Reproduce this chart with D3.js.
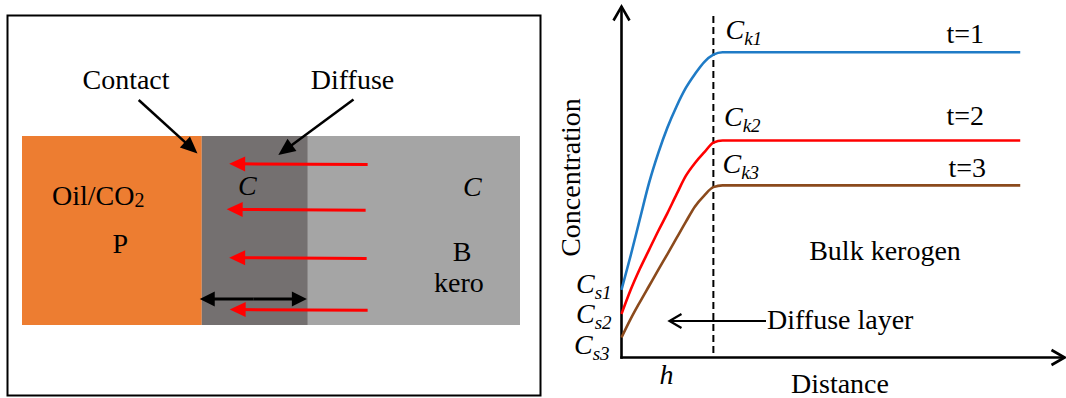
<!DOCTYPE html>
<html>
<head>
<meta charset="utf-8">
<script src="https://cdn.jsdelivr.net/npm/d3@7"></script>
<style>
  html, body { margin: 0; padding: 0; background: #fff; }
  svg { display: block; }
</style>
</head>
<body>
<svg id="chart" width="1066" height="398"></svg>
<script>
// ---------- DATA ----------
// Left panel: regions along the block (0..100 across the block)
const regionNames = ["Oil/CO2 P", "Diffuse layer", "Bulk kerogen"];
const regionBounds = [0, 36.1, 57.4, 100];
const regionColors = ["#ED7D31", "#747070", "#A5A5A5"];
// red flux arrows: vertical position (0..100 down the block), tail and tip (0..100 across)
const fluxRows = [14.7, 38.8, 64.4, 91.8];
const fluxTail = [69.4, 69.0, 69.2, 69.4];
const fluxTip  = [41.6, 41.1, 41.6, 41.7];

// Right panel: concentration profiles vs distance (h = 1)
const distance = [0, 0.1, 0.2, 0.3, 0.4, 0.5, 0.6, 0.7, 0.8, 0.9, 1.0, 1.1, 4.34];
const concT1 = [19.3, 29.1, 39.5, 49.8, 58.3, 65.6, 71.7, 76.9, 80.9, 84.3, 86.4, 87.1, 87.1];
const concT2 = [12.4, 19.3, 25.3, 30.7, 36.1, 41.2, 46.6, 51.8, 55.5, 58.5, 61.3, 61.9, 61.9];
const concT3 = [5.7, 11.0, 15.8, 20.4, 25.0, 29.5, 34.1, 38.7, 43.1, 46.2, 48.6, 49.1, 49.1];
const seriesNames = ["t=1", "t=2", "t=3"];
const seriesColors = ["#1F7BC6", "#FF0000", "#8B4A1C"];
const surfaceLabels = ["s1", "s2", "s3"];
const bulkLabels = ["k1", "k2", "k3"];
const hValue = 1;

// ---------- DRAW ----------
const svg = d3.select("#chart");
const FONT = 28;
const FAMILY = "'Liberation Serif', 'DejaVu Serif', 'Times New Roman', serif";

function txt(g, xx, yy, size) {
  return g.append("text").attr("x", xx).attr("y", yy)
    .attr("font-family", FAMILY).attr("font-size", size || FONT).attr("fill", "#000");
}

function filledArrow(g, x1, y1, x2, y2, color, width, headLen, headW) {
  const dx = x2 - x1, dy = y2 - y1, Ln = Math.hypot(dx, dy);
  const ux = dx / Ln, uy = dy / Ln, px = -uy, py = ux;
  const bx = x2 - ux * headLen, by = y2 - uy * headLen;
  g.append("line").attr("x1", x1).attr("y1", y1)
    .attr("x2", x2 - ux * headLen * 0.6).attr("y2", y2 - uy * headLen * 0.6)
    .attr("stroke", color).attr("stroke-width", width);
  g.append("path")
    .attr("d", `M${x2},${y2}L${bx + px * headW / 2},${by + py * headW / 2}L${bx - px * headW / 2},${by - py * headW / 2}Z`)
    .attr("fill", color);
}
function openArrow(g, x1, y1, x2, y2, color, width, headLen, headW) {
  const dx = x2 - x1, dy = y2 - y1, Ln = Math.hypot(dx, dy);
  const ux = dx / Ln, uy = dy / Ln, px = -uy, py = ux;
  const bx = x2 - ux * headLen, by = y2 - uy * headLen;
  g.append("line").attr("x1", x1).attr("y1", y1).attr("x2", x2).attr("y2", y2)
    .attr("stroke", color).attr("stroke-width", width);
  g.append("path")
    .attr("d", `M${bx + px * headW / 2},${by + py * headW / 2}L${x2},${y2}L${bx - px * headW / 2},${by - py * headW / 2}`)
    .attr("fill", "none").attr("stroke", color).attr("stroke-width", width)
    .attr("stroke-linejoin", "miter");
}

// ===== Left panel =====
const L = svg.append("g");
L.append("rect").attr("x", 7.5).attr("y", 15.5).attr("width", 533).attr("height", 380)
  .attr("fill", "none").attr("stroke", "#000").attr("stroke-width", 2);

const bx = d3.scaleLinear().domain([0, 100]).range([22, 520]);
const by = d3.scaleLinear().domain([0, 100]).range([136, 325]);

L.selectAll("rect.region").data(regionNames).join("rect")
  .attr("class", "region")
  .attr("x", (d, i) => bx(regionBounds[i]))
  .attr("y", by(0))
  .attr("width", (d, i) => bx(regionBounds[i + 1]) - bx(regionBounds[i]))
  .attr("height", by(100) - by(0))
  .attr("fill", (d, i) => regionColors[i]);

// red flux arrows
fluxRows.forEach((r, i) => {
  filledArrow(L, bx(fluxTail[i]), by(r) + 0.8, bx(fluxTip[i]), by(r), "#FF0000", 3, 16, 15);
});

// double-headed width arrow of the diffuse layer
(function () {
  const yy = by(86.2), xa = bx(regionBounds[1]) - 2, xb = bx(regionBounds[2]) - 1;
  filledArrow(L, (xa + xb) / 2, yy, xa, yy, "#000", 3, 15, 15);
  filledArrow(L, (xa + xb) / 2, yy, xb, yy, "#000", 3, 15, 15);
})();

// Contact / Diffuse pointers
filledArrow(L, 138.7, 100, 197.5, 153.5, "#000", 2.5, 17, 15);
filledArrow(L, 353.5, 99.5, 278.3, 155, "#000", 2.5, 17, 15);

txt(L, 126, 89).attr("text-anchor", "middle").text("Contact");
txt(L, 352.5, 89).attr("text-anchor", "middle").text("Diffuse");

const oil = txt(L, 52, 205);
oil.append("tspan").text("Oil/CO");
oil.append("tspan").attr("font-size", 20).attr("dy", 2).text("2");
txt(L, 112.5, 253).text("P");
txt(L, 238, 195).attr("font-style", "italic").text("C");
txt(L, 463, 196).attr("font-style", "italic").text("C");
txt(L, 462, 261).attr("text-anchor", "middle").text("B");
txt(L, 459, 292).attr("text-anchor", "middle").text("kero");

// ===== Right panel =====
const R = svg.append("g");
const x = d3.scaleLinear().domain([0, 4.8]).range([621.5, 1062.5]);
const y = d3.scaleLinear().domain([0, 100]).range([357.5, 7]);

// axes with arrows
openArrow(R, x(0), y(0) + 1.2, x(0), 6.5, "#000", 2.6, 14, 16);
openArrow(R, x(0) - 1.2, y(0), 1064.5, y(0), "#000", 2.6, 13, 15);

// dashed h line
R.append("line").attr("x1", x(hValue)).attr("x2", x(hValue))
  .attr("y1", 16).attr("y2", y(0))
  .attr("stroke", "#000").attr("stroke-width", 2).attr("stroke-dasharray", "7,4");

// curves
const series = [concT1, concT2, concT3];
const line = d3.line().x((d, i) => x(distance[i])).y(d => y(d)).curve(d3.curveMonotoneX);
R.selectAll("path.series").data(series).join("path")
  .attr("class", "series")
  .attr("d", d => line(d))
  .attr("fill", "none")
  .attr("stroke", (d, i) => seriesColors[i])
  .attr("stroke-width", 2.6);

// t= labels
const tOffsets = [-9, -16, -8];
seriesNames.forEach((s, i) => {
  txt(R, 946.5 + (i === 2 ? 2 : 0), y(series[i][series[i].length - 1]) + tOffsets[i]).text(s);
});

// C_k labels
const ckBase = [39, 126, 173];
const ckX = [725.5, 724, 722.5];
bulkLabels.forEach((k, i) => {
  const t = txt(R, ckX[i], ckBase[i]).attr("font-style", "italic");
  t.append("tspan").text("C");
  t.append("tspan").attr("font-size", 19).attr("dy", 6).text(k);
});

// C_s labels
const csBase = [293, 323, 354];
const csX = [576, 576, 574];
surfaceLabels.forEach((s, i) => {
  const t = txt(R, csX[i], csBase[i]).attr("font-style", "italic");
  t.append("tspan").text("C");
  t.append("tspan").attr("font-size", 19).attr("dy", 6).text(s);
});

// h label
txt(R, 659.5, 384).attr("font-style", "italic").text("h");

// axis titles
R.append("text").attr("transform", "translate(580,177.5) rotate(-90)")
  .attr("font-family", FAMILY).attr("font-size", FONT)
  .attr("text-anchor", "middle").text("Concentration");
txt(R, 840, 393).attr("text-anchor", "middle").text("Distance");

// Bulk kerogen
txt(R, 885, 260).attr("text-anchor", "middle").text("Bulk kerogen");

// Diffuse layer arrow + label
openArrow(R, 766, 321, 669.5, 321, "#000", 2.2, 12, 14);
txt(R, 767, 328.5).text("Diffuse layer");
</script>
</body>
</html>
